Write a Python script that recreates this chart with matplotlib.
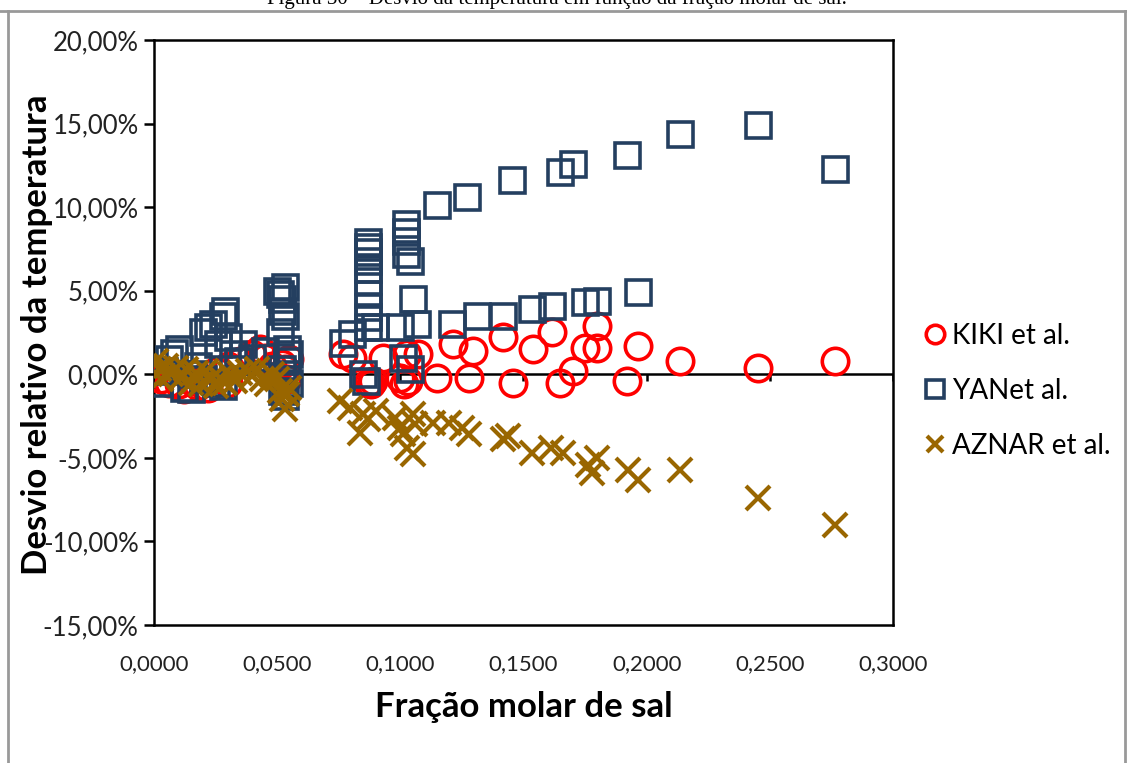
import matplotlib
matplotlib.use("Agg")
import matplotlib.pyplot as plt
from matplotlib.lines import Line2D
from matplotlib.ticker import FuncFormatter

# fração molar de sal (x) e desvio relativo em % (y)
kiki_x = [0.003, 0.006, 0.010, 0.012, 0.015, 0.018, 0.020, 0.022, 0.025, 0.030,
          0.030, 0.035, 0.040, 0.043, 0.045, 0.048, 0.052, 0.053, 0.054, 0.055,
          0.0767, 0.0804, 0.087, 0.088, 0.089, 0.093, 0.0998, 0.1013, 0.1027, 0.1030,
          0.107, 0.1149, 0.1214, 0.128, 0.1295, 0.1417, 0.1457, 0.1539, 0.1616, 0.1648,
          0.1701, 0.175, 0.1798, 0.180, 0.192, 0.1965, 0.2135, 0.2452, 0.2764]
kiki_y = [-0.3, -0.5, -0.6, -0.9, -0.4, -0.7, -0.2, -0.8, 0.2, 0.5,
          -0.5, 0.8, 1.2, 1.5, 1.0, 0.5, 0.6, 0.3, -0.3, 0.9,
          1.2, 1.0, -0.5, -0.6, -0.4, 1.0, -0.2, -0.6, 1.2, -0.4,
          1.2, -0.2, 1.8, -0.2, 1.4, 2.2, -0.5, 1.5, 2.5, -0.5,
          0.2, 1.6, 1.6, 2.9, -0.4, 1.7, 0.8, 0.4, 0.8]

yan_x = [0.002, 0.004, 0.006, 0.008, 0.010, 0.012, 0.015, 0.016, 0.018, 0.020,
         0.020, 0.022, 0.024, 0.025, 0.026, 0.028, 0.028, 0.029, 0.030, 0.032,
         0.034, 0.036, 0.040, 0.045, 0.050, 0.051, 0.052, 0.053, 0.052, 0.053,
         0.051, 0.054, 0.055, 0.052, 0.052, 0.053, 0.055, 0.054,
         0.0767, 0.0804, 0.087, 0.087, 0.087, 0.087, 0.087, 0.087, 0.087, 0.087,
         0.087, 0.087, 0.0848, 0.0860, 0.0897, 0.0998, 0.101, 0.104, 0.1068, 0.1052,
         0.1025, 0.1025, 0.1025, 0.1025, 0.104, 0.1149, 0.121, 0.127, 0.131, 0.1417,
         0.1453, 0.1535, 0.1616, 0.1648, 0.170, 0.175, 0.180, 0.192, 0.1965, 0.2135,
         0.2452, 0.2764]
yan_y = [-0.5, 0.2, 0.9, 1.3, 1.5, -0.8, -0.9, 0.0, 0.5, 2.5,
         -0.3, 2.8, 3.0, -0.5, 1.8, 3.5, -0.7, 3.8, 2.2, 1.2,
         0.8, 1.8, 1.0, 1.4, 5.0, 4.8, 4.5, 5.2, 3.8, 3.5,
         2.5, 1.5, 1.2, 0.3, -1.0, -1.3, -0.5, 0.8,
         1.9, 2.4, 7.9, 7.6, 7.3, 6.8, 6.3, 5.6, 4.8, 4.0,
         3.4, 2.8, 0.0, -0.4, 2.8, 2.8, 1.0, 0.3, 3.0, 4.5,
         9.0, 8.5, 8.0, 7.2, 6.8, 10.1, 3.0, 10.6, 3.5, 3.5,
         11.6, 3.9, 4.1, 12.1, 12.6, 4.3, 4.4, 13.1, 4.9, 14.4,
         14.9, 12.3]

aznar_x = [0.001, 0.002, 0.003, 0.005, 0.007, 0.009, 0.011, 0.013, 0.015, 0.017,
           0.019, 0.021, 0.023, 0.025, 0.027, 0.029, 0.031, 0.033, 0.035, 0.038,
           0.040, 0.042, 0.044, 0.046, 0.048, 0.050, 0.051, 0.052, 0.053, 0.054,
           0.055, 0.0755, 0.0796, 0.0836, 0.0848, 0.087, 0.090, 0.098, 0.0998, 0.101,
           0.1027, 0.1052, 0.1052, 0.106, 0.1133, 0.1198, 0.125, 0.128, 0.1417, 0.1437,
           0.1535, 0.161, 0.166, 0.176, 0.180, 0.178, 0.1925, 0.1965, 0.2135, 0.2452,
           0.2764]
aznar_y = [0.8, 0.3, -0.3, 0.5, 0.0, 0.4, -0.2, 0.3, -0.5, 0.1,
           -0.6, 0.2, -0.3, -0.7, -0.2, -0.5, 0.0, -0.4, 0.1, 0.2,
           -0.1, 0.3, -0.3, -0.6, 0.0, -0.3, -1.0, -1.5, -2.1, -1.2,
           -0.8, -1.6, -2.0, -3.5, -2.4, -2.7, -2.2, -2.6, -3.2, -3.6,
           -4.4, -4.8, -2.4, -3.0, -2.9, -2.9, -3.2, -3.6, -3.9, -3.7,
           -4.7, -4.4, -4.7, -5.4, -5.0, -5.9, -5.7, -6.3, -5.7, -7.4,
           -9.0]

x_ticks = [0.0, 0.05, 0.10, 0.15, 0.20, 0.25, 0.30]
y_ticks = [-15, -10, -5, 0, 5, 10, 15, 20]

navy = "#243F60"
gold = "#996600"
font = "Lato"

fig = plt.figure(figsize=(11.27, 7.63), dpi=100)
ax = fig.add_axes([0.1366, 0.1809, 0.6558, 0.7667])

ax.plot(kiki_x, kiki_y, "o", ms=19, mfc="none", mec="#FF0000", mew=2.6,
        label="KIKI et al.", zorder=3)
ax.plot(yan_x, yan_y, "s", ms=18, mfc="none", mec=navy, mew=2.6,
        label="YANet al.", zorder=4)
ax.plot(aznar_x, aznar_y, "x", ms=17, mec=gold, mew=3.0,
        label="AZNAR et al.", zorder=5)

ax.set_xlim(0, 0.3)
ax.set_ylim(-15, 20)

# eixo x cruzando em 0%
ax.axhline(0, color="black", lw=1.8, zorder=2)
ax.vlines(x_ticks, -0.38, 0, color="black", lw=1.8, zorder=2)

for s in ax.spines.values():
    s.set_linewidth(1.8)
    s.set_color("black")

ax.set_xticks(x_ticks)
ax.set_yticks(y_ticks)
ax.xaxis.set_major_formatter(FuncFormatter(lambda v, p: f"{v:.4f}".replace(".", ",")))
ax.yaxis.set_major_formatter(FuncFormatter(lambda v, p: f"{v:.2f}".replace(".", ",") + "%"))
ax.tick_params(axis="x", length=0, pad=21, labelsize=16)
ax.tick_params(axis="y", length=7, width=1.8, direction="out", pad=4, labelsize=18.5)
for lbl in ax.get_xticklabels() + ax.get_yticklabels():
    lbl.set_fontfamily(font)
    lbl.set_color("#222222")

ax.set_xlabel("Fração molar de sal", fontsize=25, fontweight="bold", family=font, va="center")
ax.xaxis.set_label_coords(0.5, -0.14)
ax.set_ylabel("Desvio relativo da temperatura", fontsize=25, fontweight="bold",
              family=font, va="center")
ax.yaxis.set_label_coords(-0.158, 0.496)

leg = ax.legend(loc="center left", bbox_to_anchor=(1.027, 0.40), frameon=False,
                markerscale=0.7, handlelength=0.6, handletextpad=0.3, borderpad=0,
                labelspacing=1.05, prop={"family": font, "size": 20})

# moldura e legenda da figura (cortada no topo)
fig.text(0.494, 1 - 4 / 763, "Figura 30 – Desvio da temperatura em função da fração molar de sal.",
         ha="center", va="baseline", family="Liberation Serif", fontsize=15)
fig.add_artist(Line2D([0, 1], [1 - 11 / 763] * 2, color="#999999", lw=2))
fig.add_artist(Line2D([8 / 1127] * 2, [0, 1 - 11 / 763], color="#999999", lw=2))
fig.add_artist(Line2D([1125 / 1127] * 2, [0, 1 - 11 / 763], color="#999999", lw=2))

fig.savefig("out.png", dpi=100)
